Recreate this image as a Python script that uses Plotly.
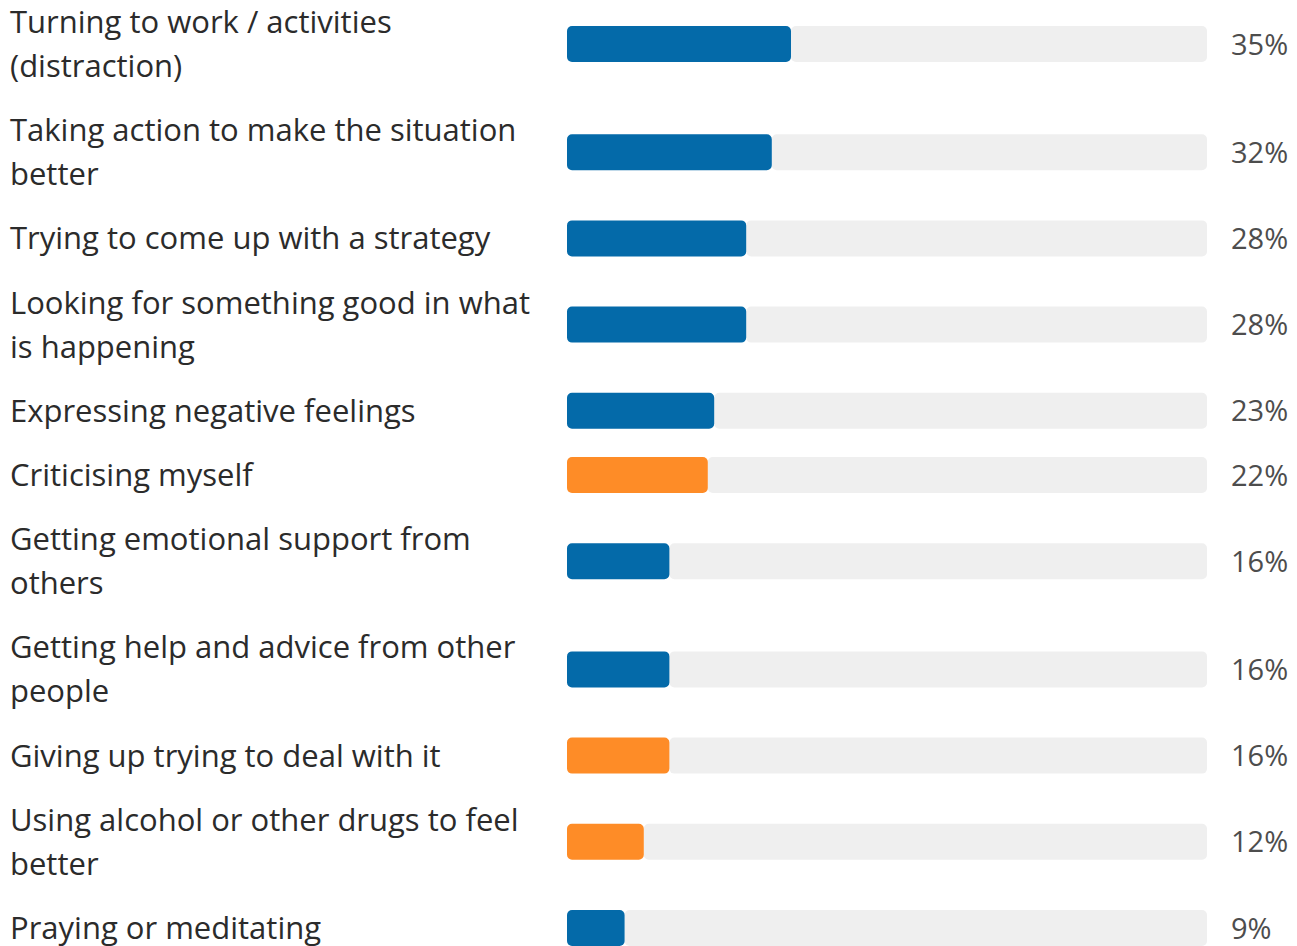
import plotly.graph_objects as go

labels = [
    "Turning to work / activities\n(distraction)",
    "Taking action to make the situation\nbetter",
    "Trying to come up with a strategy",
    "Looking for something good in what\nis happening",
    "Expressing negative feelings",
    "Criticising myself",
    "Getting emotional support from\nothers",
    "Getting help and advice from other\npeople",
    "Giving up trying to deal with it",
    "Using alcohol or other drugs to feel\nbetter",
    "Praying or meditating",
]
values = [35, 32, 28, 28, 23, 22, 16, 16, 16, 12, 9]
kinds = ["helpful", "helpful", "helpful", "helpful", "helpful", "unhelpful",
         "helpful", "helpful", "unhelpful", "unhelpful", "helpful"]

COLORS = {"helpful": "#046aa9", "unhelpful": "#fe8c27"}
TRACK = "#efefef"
TEXT = "#2b2b2b"
PCT = "#4d4d4d"
FONT = "Open Sans"
FS = 31

W, H = 1297, 946
LINE_H = 44
GAP = 20.2
BAR_H = 36

# row layout (pixel units on y)
centers = []
line_ys = []
top = 0
for lab in labels:
    lines = lab.split("\n")
    h = LINE_H * len(lines)
    c = top + h / 2
    centers.append(c)
    line_ys.append([top + LINE_H * (i + 0.5) for i in range(len(lines))])
    top += h + GAP

fig = go.Figure()
# track (from value to 100, rounded at the right end)
fig.add_trace(go.Bar(
    y=centers, x=[100 - v for v in values], base=values, orientation="h",
    width=BAR_H, marker=dict(color=TRACK, cornerradius=5, line_width=0),
    hoverinfo="skip", showlegend=False,
))
# value bar (drawn back toward zero so the left end is rounded)
fig.add_trace(go.Bar(
    y=centers, x=[-v for v in values], base=values, orientation="h",
    width=BAR_H, marker=dict(color=[COLORS[k] for k in kinds], cornerradius=5, line_width=0),
    hoverinfo="skip", showlegend=False,
))

annotations = []
for lab, ys in zip(labels, line_ys):
    for line, y in zip(lab.split("\n"), ys):
        annotations.append(dict(
            x=0, y=y, xref="x", yref="y", text=line, showarrow=False,
            xanchor="left", yanchor="middle", xshift=-559, yshift=1,
            font=dict(family=FONT, size=FS, color=TEXT),
        ))
for v, c in zip(values, centers):
    annotations.append(dict(
        x=100, y=c, xref="x", yref="y", text=f"{v}%", showarrow=False,
        xanchor="left", yanchor="middle", xshift=22, yshift=1,
        font=dict(family=FONT, size=29, color=PCT),
    ))

fig.update_layout(
    width=W, height=H,
    margin=dict(l=567, r=90, t=0, b=0),
    paper_bgcolor="white", plot_bgcolor="white",
    barmode="overlay",
    xaxis=dict(range=[0, 100], visible=False, fixedrange=True),
    yaxis=dict(range=[H, 0], visible=False, fixedrange=True),
    annotations=annotations,
    font=dict(family=FONT),
)

fig.write_html("out.html", config={"displayModeBar": False})
